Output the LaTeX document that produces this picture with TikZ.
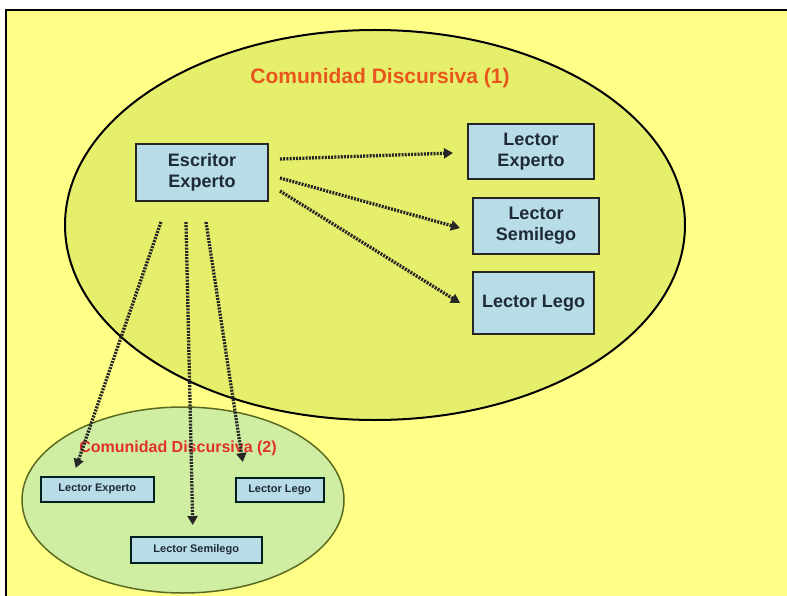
\documentclass[tikz,border=0pt]{standalone}
\usepackage{fontspec}
\setmainfont{Liberation Sans}
\usetikzlibrary{arrows.meta,calc}
\definecolor{bgyellow}{HTML}{FFFF88}
\definecolor{bigfill}{HTML}{E6EF6C}
\definecolor{smallfill}{HTML}{CFEEA2}
\definecolor{smalledge}{HTML}{5A6A20}
\definecolor{boxfill}{HTML}{B9DDE6}
\definecolor{boxtext}{HTML}{1E2A38}
\definecolor{titleone}{HTML}{E8561C}
\definecolor{titletwo}{HTML}{E2302A}
\tikzset{
  bigbox/.style={draw=black!85, line width=2pt, fill=boxfill, text=boxtext, font=\bfseries\fontsize{18}{21}\selectfont, align=center, inner sep=0pt, anchor=north west},
  smallbox/.style={draw=black!75!teal, line width=1.5pt, fill=boxfill, text=boxtext, font=\bfseries\fontsize{11}{13}\selectfont, inner sep=0pt, anchor=north west},
  dotarrow/.style={line width=3.3pt, dash pattern=on 2pt off 1.2pt, black!85, -{Triangle[length=9pt,width=10pt]}},
}
\begin{document}
\begin{tikzpicture}[x=1pt,y=-1pt]
\useasboundingbox (0,0) rectangle (787,596);
\fill[white] (0,0) rectangle (787,596);
\fill[bgyellow] (6,10) rectangle (787,596);
\draw[line width=2pt, black] (6,596) -- (6,10) -- (787,10);
% ellipses
\draw[line width=2pt, fill=bigfill] (375,225) ellipse [x radius=310, y radius=195];
\draw[line width=1.5pt, draw=smalledge, fill=smallfill] (183,500) ellipse [x radius=161, y radius=93];
% titles
\node[text=titleone, font=\bfseries\fontsize{21}{24}\selectfont] (t1) at (380,78) {Comunidad Discursiva (1)};
\node[text=titletwo, font=\bfseries\fontsize{16}{19}\selectfont] (t2) at (178,448) {Comunidad Discursiva (2)};
% boxes
\node[bigbox, minimum width=132pt, minimum height=57pt] (esc) at (135,143) {Escritor\\Experto};
\node[bigbox, minimum width=126pt, minimum height=55pt] (le) at (467,123) {Lector\\Experto};
\node[bigbox, minimum width=126pt, minimum height=56pt] (ls) at (472,197) {Lector\\Semilego};
\node[bigbox, minimum width=121pt, minimum height=62pt] (ll) at (472,271) {Lector Lego};
\node[smallbox, minimum width=113pt, minimum height=25pt] (se) at (40,476) {Lector Experto};
\node[smallbox, minimum width=88pt, minimum height=24pt] (sl) at (235,477) {Lector Lego};
\node[smallbox, minimum width=131pt, minimum height=26pt] (ss) at (130,536) {Lector Semilego};
% arrows
\draw[dotarrow] ($(esc.east)+(11,-13.5)$) -- ($(le.west)+(-14,1.5)$);
\draw[dotarrow] ($(esc.east)+(11,5.5)$) -- ($(ls.west)+(-12,2)$);
\draw[dotarrow] ($(esc.east)+(11,18.5)$) -- ($(ll.west)+(-12,0)$);
\draw[dotarrow] ($(esc.south)+(-41,20)$) -- ($(se.north)+(-21.5,-8)$);
\draw[dotarrow] ($(esc.south)+(-16,20)$) -- ($(ss.north)+(-3.5,-11)$);
\draw[dotarrow] ($(esc.south)+(4,20)$) -- ($(sl.north)+(-37,-15)$);
\end{tikzpicture}
\end{document}
